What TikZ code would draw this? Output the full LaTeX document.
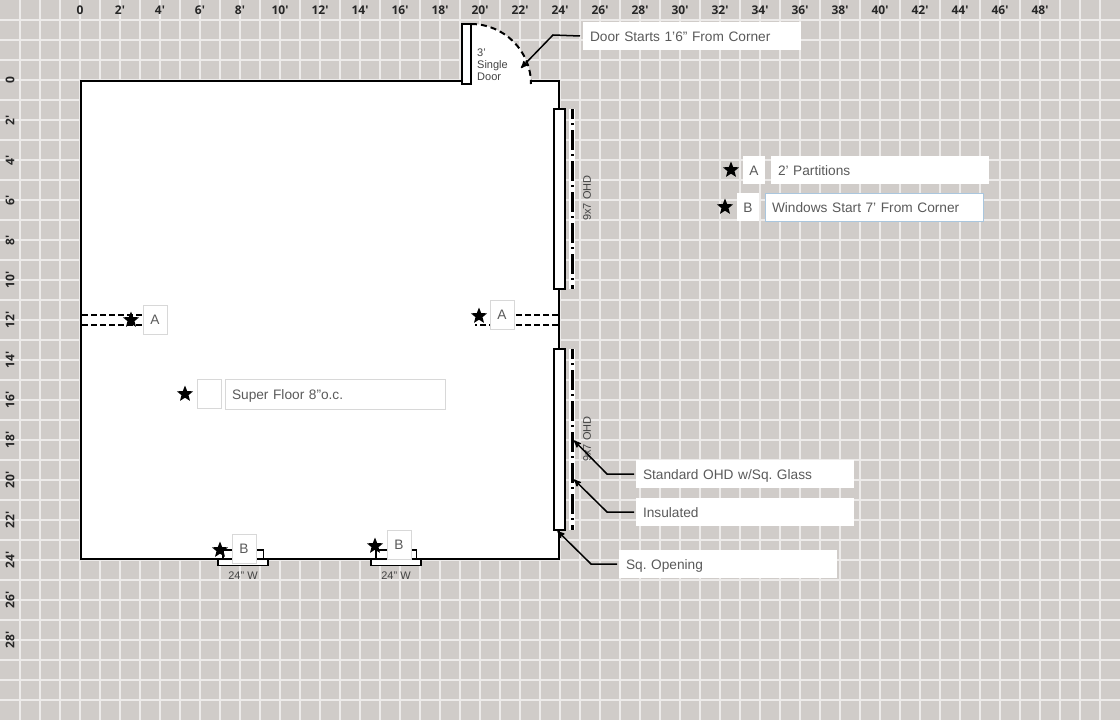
\documentclass[tikz,border=0pt]{standalone}
\usepackage{fontspec}
\setmainfont{Liberation Sans}
\newfontfamily\rulerfont{Open Sans}
\usetikzlibrary{arrows,positioning,shapes.geometric}
\definecolor{floorbg}{HTML}{D0CCC9}
\definecolor{gridln}{HTML}{EDEBEA}
\definecolor{txt}{HTML}{5A5A5A}
\definecolor{sml}{HTML}{444444}
\definecolor{boxln}{HTML}{D8D8D8}
\definecolor{selln}{HTML}{A9C6DE}

\begin{document}
\frenchspacing
\begin{tikzpicture}
  [
   x=1pt,y=-1pt,
   node distance=4mm and 4pt,
   tk/.style={font=\rulerfont\bfseries\fontsize{12}{14}\selectfont,text=black!85,inner sep=0pt},
   wl/.style={draw=black,line width=2pt,fill=white,outer sep=0pt},
   sm/.style={font=\fontsize{11}{12.3}\selectfont,text=sml,inner sep=0pt},
   st/.style={star,star points=5,star point ratio=2.3,fill=black,inner sep=0pt,minimum size=17pt},
   lb/.style={anchor=north west,fill=white,text=txt,inner sep=0pt,outer sep=0pt,text height=10pt,text depth=0pt,font=\fontsize{13.7}{16}\selectfont,align=center},
   kb/.style={lb,draw=boxln,line width=0.8pt,minimum width=24pt,minimum height=29pt},
   cb/.style={lb,minimum width=218pt,minimum height=28pt,text width=204pt,align=left,inner xsep=7pt},
   ld/.style={draw=black,line width=1.5pt,-stealth'},
   pt/.style={draw=black,line width=2pt,dash pattern=on 6pt off 3pt},
   od/.style={draw=black,line width=3pt,dash pattern=on 20pt off 4pt on 2pt off 5pt,dash phase=10pt}
  ]
   \useasboundingbox (0,0) rectangle (1120,720);
   \fill[floorbg] (0,0) rectangle (1120,720);
   % grid
   \foreach \gx in {20,40,...,1100}
     \draw[gridln,line width=1.3pt] (\gx,0) -- (\gx,720);
   \foreach \gy in {20,40,...,700}
     \draw[gridln,line width=1.3pt] (0,\gy) -- (1120,\gy);

   % rulers
   \node[tk] (top0) at (80,10) {0};
   \foreach \ft in {2,4,...,48}
     \node[tk] (top\ft) at (80+20*\ft,10) {\ft'};
   \node[tk,rotate=90] (left0) at (10,80) {0};
   \foreach \ft in {2,4,...,28}
     \node[tk,rotate=90] (left\ft) at (10,80+20*\ft) {\ft'};

   % room
   \draw[wl] (81,81) rectangle (559,559);

   % door
   \fill[white] (471,84) -- (471,24) .. controls (504.1,24) and (531,50.9) .. (531,84) -- cycle;
   \draw[black,line width=2pt,dash pattern=on 6pt off 4pt] (471,24) .. controls (504.1,24) and (531,50.9) .. (531,84);
   \node[wl,anchor=north west,minimum width=9.5pt,minimum height=60pt,inner sep=0pt] (door) at (461.5,24) {};
   \node[sm,anchor=north west,align=left] (doortxt) at (477,48.5) {3'\\Single\\Door};

   % overhead doors
   \node[wl,anchor=north west,minimum width=11pt,minimum height=180pt,inner sep=0pt] (ohd1) at (554,109) {};
   \node[wl,anchor=north west,minimum width=11pt,minimum height=181pt,inner sep=0pt] (ohd2) at (554,349) {};
   \coordinate (o1a) at (572,109);
   \coordinate (o1b) at (572,289);
   \coordinate (o2a) at (572,349);
   \coordinate (o2b) at (572,530);
   \draw[white,line width=6pt] (o1a) -- (o1b);
   \draw[white,line width=6pt] (o2a) -- (o2b);
   \draw[od] (o1a) -- (o1b);
   \draw[od] (o2a) -- (o2b);
   \node[sm,rotate=90] (o1txt) at (587,198) {9x7 OHD};
   \node[sm,rotate=90] (o2txt) at (587,439) {9x7 OHD};

   % partitions
   \coordinate (pl1) at (82,315);
   \coordinate (pl2) at (82,325);
   \coordinate (pl3) at (143,315);
   \coordinate (pl4) at (143,325);
   \coordinate (pr1) at (558,314.5);
   \coordinate (pr2) at (558,324.5);
   \coordinate (pr3) at (490,314.5);
   \coordinate (pr4) at (475,324.5);
   \draw[pt] (pl1) -- (pl3);
   \draw[pt] (pl2) -- (pl4);
   \draw[pt] (pr1) -- (pr3);
   \draw[pt] (pr2) -- (pr4);
   \node[kb] (pla) at (143,305) {A};
   \node[st] (pls) at (131,320) {};
   \node[kb] (pra) at (490,300) {A};
   \node[st] (prs) at (479,316) {};

   % windows
   \foreach \wn/\wx in {w1/0,w2/153}{
     \draw[wl,line width=1.5pt] (218+\wx,559) rectangle (268+\wx,565.5);
     \draw[black,line width=1.5pt,fill=white] (223+\wx,559) -- (223+\wx,550) -- (263.5+\wx,550) -- (263.5+\wx,559);
     \node[sm] (\wn txt) at (243+\wx,576) {24" W};
   }
   \draw[black,line width=2pt] (218,559) -- (268,559);
   \draw[black,line width=2pt] (371,559) -- (421,559);
   \node[kb] (w1b) at (232,534) {B};
   \node[st] (w1s) at (220,550) {};
   \node[kb] (w2b) at (387,530) {B};
   \node[st] (w2s) at (375,546) {};

   % floor note
   \node[kb] (fk) at (197,379) {};
   \node[st] (fs) at (185,394) {};
   \node[kb,minimum width=220pt,minimum height=30pt,text width=206pt,align=left,inner xsep=7pt] (fn) at (225,379) {Super Floor 8"o.c.};

   % legend
   \node[lb,minimum width=22pt,minimum height=28pt] (ka) at (743,156) {A};
   \node[st] (sa) at (731,170) {};
   \node[cb] (na) at (771,156) {2' Partitions};
   \node[lb,minimum width=22pt,minimum height=28pt] (kb1) at (737,193) {B};
   \node[st] (sb) at (725,207) {};
   \node[cb,draw=selln,line width=0.8pt] (nb) at (765,193) {Windows Start 7' From Corner};

   % callouts
   \node[cb] (cd) at (583,22) {Door Starts 1'6" From Corner};
   \node[cb] (cs) at (636,460) {Standard OHD w/Sq. Glass};
   \node[cb] (ci) at (636,498) {Insulated};
   \node[cb] (cq) at (619,550) {Sq. Opening};
   \coordinate (ad) at (521,68);
   \coordinate (as) at (574,440.5);
   \coordinate (ai) at (574,479.5);
   \coordinate (aq) at (557.5,531);
   \draw[ld] ([xshift=-3pt]cd.west) -- (553,35) -- (ad);
   \draw[ld] ([xshift=-2pt]cs.west) -- (607,474) -- (as);
   \draw[ld] ([xshift=-2pt]ci.west) -- (607,512) -- (ai);
   \draw[ld] ([xshift=-2pt]cq.west) -- (591,564) -- (aq);

\end{tikzpicture}
\end{document}
